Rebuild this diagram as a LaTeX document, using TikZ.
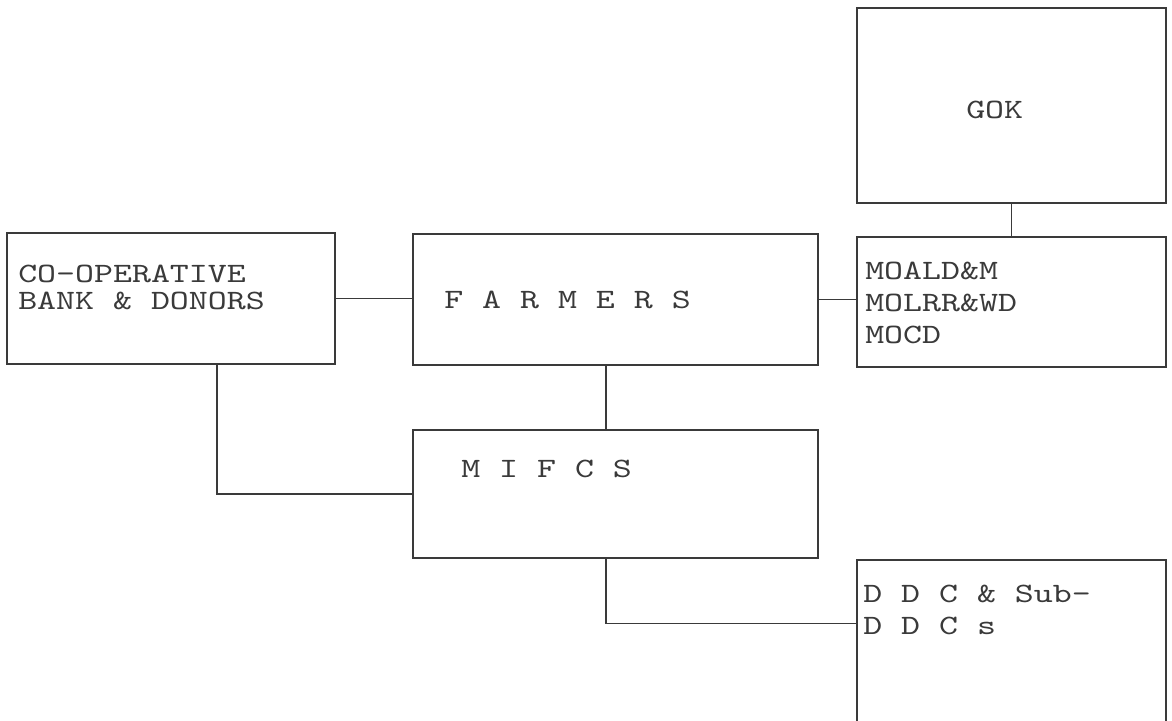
\documentclass[tikz,border=0pt]{standalone}
\usepackage{fontspec}
\usetikzlibrary{fit}
\definecolor{ink}{HTML}{3A3A3A}
\newfontfamily\twfam{lmmono10-regular.otf}[FakeStretch=1.29]
\newcommand\twfont{\fontsize{21pt}{24pt}\twfam\selectfont}
\begin{document}
\begin{tikzpicture}[x=0.75pt,y=-0.75pt,
  box/.style={draw=ink, line width=1.1pt, rectangle, inner sep=0pt},
  txt/.style={inner sep=0pt, anchor=base west, text=ink, font=\twfont},
  link/.style={draw=ink, line width=1.1pt}]
\useasboundingbox (0,0) rectangle (1172,721);
\clip (0,0) rectangle (1172,721);
\fill[white] (0,0) rectangle (1172,721);
% boxes
\node[box, fit={(857,8) (1166,203)}] (gok) {};
\node[box, fit={(857,237) (1166,367)}] (min) {};
\node[box, fit={(7,233) (335,364)}] (coop) {};
\node[box, fit={(413,234) (818,365)}] (farm) {};
\node[box, fit={(413,430) (818,558)}] (mifcs) {};
\node[box, fit={(857,560) (1166,760)}] (ddc) {};
% texts
\node[txt] (tgok) at (966,118) {GOK};
\node[txt] (tm1) at (865,279) {MOALD\&M};
\node[txt] (tm2) at (865,311) {MOLRR\&WD};
\node[txt] (tm3) at (865,343) {MOCD};
\node[txt] (tc1) at (18,282) {CO-OPERATIVE};
\node[txt] (tc2) at (18,309) {BANK \& DONORS};
\node[txt] (tf) at (444,308) {F A R M E R S};
\node[txt] (tmi) at (461,477) {M I F C S};
\node[txt] (td1) at (863,602) {D D C \& Sub-};
\node[txt] (td2) at (863,634) {D D C s};
% connectors
\draw[link] (gok.south) -- (min.north);
\draw[link] (coop.east) -- (coop.east -| farm.west);
\draw[link] (farm.east) -- (farm.east -| min.west);
\draw[link] ([xshift=-7.1pt]farm.south) -- ([xshift=-7.1pt]mifcs.north);
\draw[link] ([xshift=34.5pt]coop.south) |- (mifcs.west);
\draw[link] ([xshift=-7.1pt]mifcs.south) |- ([yshift=-48pt]ddc.north west);
\end{tikzpicture}
\end{document}
